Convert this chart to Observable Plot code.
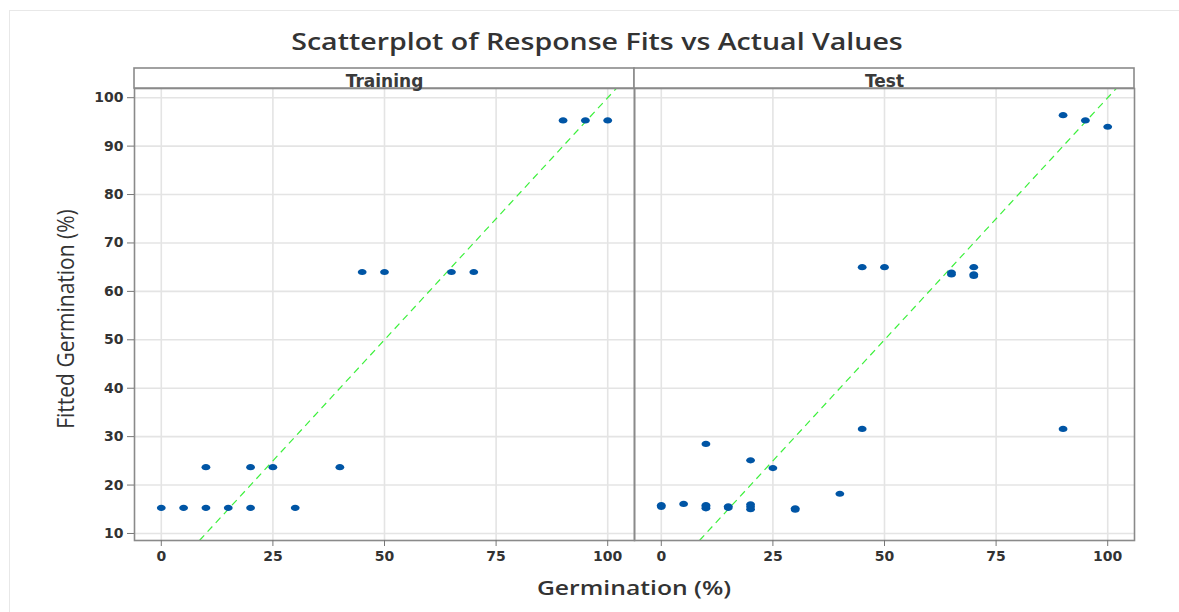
<!DOCTYPE html>
<html><head><meta charset="utf-8">
<script src="https://cdn.jsdelivr.net/npm/d3@7"></script>
<script src="https://cdn.jsdelivr.net/npm/@observablehq/plot@0.6"></script>
<style>
body{margin:0;background:#fff;width:1179px;height:612px;position:relative;overflow:hidden;font-family:"Open Sans",sans-serif;}
#outer{position:absolute;left:9px;top:10px;right:0;bottom:0;border-left:1px solid #e8e8e8;border-top:1px solid #e8e8e8;}
#title{position:absolute;left:597px;top:41px;transform:translate(-50%,-50%) scaleX(1.24);white-space:nowrap;font-size:23px;font-weight:600;color:#333;line-height:34px;}
#chart{position:absolute;left:0;top:60px;}
#xlabel{position:absolute;left:634px;top:588px;transform:translate(-50%,-50%) scaleX(1.3);white-space:nowrap;font-size:19px;font-weight:600;color:#333;line-height:26px;}
#ylabel{position:absolute;left:65px;top:319px;transform:translate(-50%,-50%) rotate(-90deg) scaleY(1.15);white-space:nowrap;font-size:21px;color:#333;line-height:26px;}
</style>
</head><body>
<div id="outer"></div>
<div id="title">Scatterplot of Response Fits vs Actual Values</div>
<div id="chart"></div>
<div id="ylabel">Fitted Germination (%)</div>
<div id="xlabel">Germination (%)</div>
<script>
const panels = ["Training", "Test"];
const trainActual = [0, 5, 10, 15, 20, 30, 10, 20, 25, 40, 45, 50, 65, 70, 90, 95, 100];
const trainFitted = [15.3, 15.3, 15.3, 15.3, 15.3, 15.3, 23.7, 23.7, 23.7, 23.7, 64.0, 64.0, 64.0, 64.0, 95.3, 95.3, 95.3];
const testActual = [0, 0, 5, 10, 10, 10, 10, 15, 15, 20, 20, 20, 20, 25, 30, 30, 40, 45, 45, 50, 65, 65, 70, 70, 70, 90, 90, 95, 100];
const testFitted = [15.5, 15.85, 16.1, 15.2, 15.5, 15.85, 28.5, 15.3, 15.6, 15.0, 15.5, 16.0, 25.1, 23.5, 14.9, 15.2, 18.2, 31.6, 65.0, 65.0, 63.5, 63.9, 63.2, 63.5, 65.0, 31.6, 96.4, 95.3, 94.0];
const xTicks = [0, 25, 50, 75, 100];
const yTicks = [10, 20, 30, 40, 50, 60, 70, 80, 90, 100];
const xDomain = [-6, 106];
const yDomain = [8.55, 101.9];

const rows = [
  ...trainActual.map((a, i) => ({panel: panels[0], actual: a, fitted: trainFitted[i]})),
  ...testActual.map((a, i) => ({panel: panels[1], actual: a, fitted: testFitted[i]}))
];

const W = 1179, H = 515, mTop = 28, mBottom = 35, mLeft = 133, mRight = 45;
const stripPx = 20;
const unitsPerPx = (yDomain[1] - yDomain[0]) / (H - mTop - mBottom);
const stripTop = yDomain[1] + stripPx * unitsPerPx;
const refLine = [{lo: yDomain[0], hi: yDomain[1]}];

const ellipse = {
  draw(context) {
    const rx = 4.4, ry = 3.1, k = 0.5523;
    context.moveTo(rx, 0);
    context.bezierCurveTo(rx, ry * k, rx * k, ry, 0, ry);
    context.bezierCurveTo(-rx * k, ry, -rx, ry * k, -rx, 0);
    context.bezierCurveTo(-rx, -ry * k, -rx * k, -ry, 0, -ry);
    context.bezierCurveTo(rx * k, -ry, rx, -ry * k, rx, 0);
    context.closePath();
  }
};

const tickFont = "'DejaVu Sans', sans-serif";

const chart = Plot.plot({
  width: W, height: H,
  marginTop: mTop, marginBottom: mBottom, marginLeft: mLeft, marginRight: mRight,
  style: {fontFamily: tickFont, fontSize: "14px", color: "#333", background: "transparent"},
  fx: {domain: panels, padding: 0, axis: null},
  x: {domain: xDomain},
  y: {domain: yDomain},
  marks: [
    Plot.gridX(xTicks, {stroke: "#e4e4e4", strokeOpacity: 1, strokeWidth: 1.6}),
    Plot.gridY(yTicks, {stroke: "#e4e4e4", strokeOpacity: 1, strokeWidth: 1.6}),
    Plot.link(refLine, {x1: d => d.lo, y1: d => d.lo, x2: d => d.hi, y2: d => d.hi, stroke: "#3cf03c", strokeWidth: 1.2, strokeDasharray: "7,5"}),
    Plot.dot(rows, {fx: "panel", x: "actual", y: "fitted", symbol: ellipse, fill: "#0055a5", stroke: null}),
    Plot.frame({stroke: "#8a8a8a", strokeWidth: 1.6}),
    Plot.rect(panels, {fx: d => d, x1: () => xDomain[0], x2: () => xDomain[1], y1: () => yDomain[1], y2: () => stripTop, fill: "#fff", stroke: "#8a8a8a", strokeWidth: 1.6}),
    Plot.text(panels, {fx: d => d, x: () => (xDomain[0] + xDomain[1]) / 2, y: () => (yDomain[1] + stripTop) / 2 - 0.55, text: d => d, fontFamily: tickFont, fontSize: 17, fontWeight: 600, fill: "#3a3a3a"}),
    Plot.axisX(xTicks, {tickSize: 6, tickPadding: 5, fontFamily: tickFont, fontSize: 14, fontWeight: "bold", stroke: "#777", fill: "#333", label: null}),
    Plot.axisY(yTicks, {tickSize: 7, tickPadding: 4, fontFamily: tickFont, fontSize: 14, fontWeight: "bold", stroke: "#777", fill: "#333", label: null})
  ]
});
document.getElementById("chart").appendChild(chart);
</script>
</body></html>
